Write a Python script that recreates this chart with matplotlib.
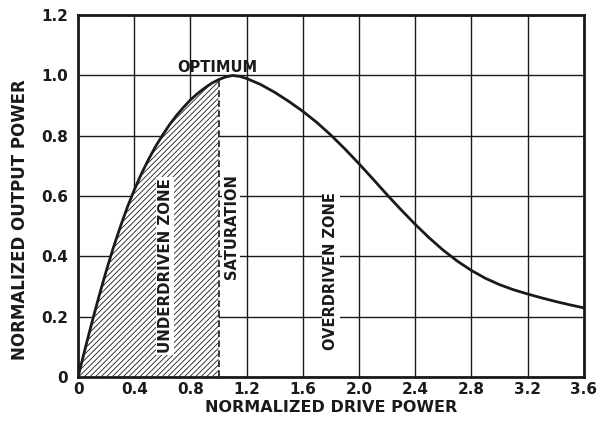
import numpy as np
import matplotlib
matplotlib.use('Agg')
import matplotlib.pyplot as plt

plt.rcParams['font.family'] = 'DejaVu Sans'
plt.rcParams['font.weight'] = 'bold'
plt.rcParams['axes.labelweight'] = 'bold'
plt.rcParams['hatch.linewidth'] = 0.6
plt.rcParams['hatch.color'] = '#333333'

# normalized drive power vs normalized output power
drive = [0.0, 0.05, 0.10, 0.15, 0.20, 0.25, 0.30, 0.35, 0.40, 0.45, 0.50,
         0.55, 0.60, 0.65, 0.70, 0.75, 0.80, 0.85, 0.90, 0.95, 1.00, 1.05,
         1.10, 1.15, 1.20, 1.30, 1.40, 1.50, 1.60, 1.70, 1.80, 1.90, 2.00,
         2.10, 2.20, 2.30, 2.40, 2.50, 2.60, 2.70, 2.80, 2.90, 3.00, 3.10,
         3.20, 3.30, 3.40, 3.50, 3.60]
output = [0.0, 0.093, 0.183, 0.269, 0.351, 0.427, 0.497, 0.562, 0.620, 0.673, 0.720,
          0.763, 0.801, 0.836, 0.867, 0.894, 0.919, 0.940, 0.958, 0.974, 0.986, 0.995,
          1.0, 0.997, 0.990, 0.970, 0.944, 0.914, 0.881, 0.844, 0.802, 0.756, 0.707,
          0.656, 0.604, 0.554, 0.506, 0.461, 0.420, 0.384, 0.353, 0.327, 0.306, 0.289,
          0.275, 0.262, 0.250, 0.239, 0.229]
saturation = 1.0

x_ticks = [0, 0.4, 0.8, 1.2, 1.6, 2.0, 2.4, 2.8, 3.2, 3.6]
x_labels = ['0', '0.4', '0.8', '1.2', '1.6', '2.0', '2.4', '2.8', '3.2', '3.6']
y_ticks = [0, 0.2, 0.4, 0.6, 0.8, 1.0, 1.2]
y_labels = ['0', '0.2', '0.4', '0.6', '0.8', '1.0', '1.2']

ink = '#1a1a1a'

fig = plt.figure(figsize=(6.10, 4.22), dpi=100)
ax = fig.add_axes([0.128, 0.107, 0.829, 0.857])

x = np.array(drive)
y = np.array(output)

# underdriven zone hatching
under = x <= saturation
ax.fill_between(x[under], 0, y[under], facecolor='white', edgecolor=ink,
                hatch='//////', linewidth=0, zorder=2)
y_sat = np.interp(saturation, x, y)
ax.plot([saturation, saturation], [0, y_sat], color=ink, lw=1.2,
        ls=(0, (4, 2)), zorder=3)

ax.plot(x, y, color=ink, lw=2.0, zorder=4)

ax.set_xlim(0, 3.6)
ax.set_ylim(0, 1.2)
ax.set_xticks(x_ticks)
ax.set_xticklabels(x_labels)
ax.set_yticks(y_ticks)
ax.set_yticklabels(y_labels)
ax.tick_params(length=0, labelsize=11, colors=ink)
ax.tick_params(axis='y', pad=7)
ax.tick_params(axis='x', pad=4)
ax.grid(True, color=ink, lw=1.0, zorder=1)
ax.set_axisbelow(True)
for s in ax.spines.values():
    s.set_linewidth(2.0)
    s.set_color(ink)

ax.set_xlabel('NORMALIZED DRIVE POWER', fontsize=11.5, color=ink, labelpad=2)
ax.set_ylabel('NORMALIZED OUTPUT POWER', fontsize=12, color=ink)
ax.yaxis.set_label_coords(-0.098, 0.434)

box = dict(facecolor='white', edgecolor='none', pad=1.0)
ax.text(0.99, 1.025, 'OPTIMUM', ha='center', va='center', fontsize=10.5,
        color=ink, zorder=5)
ax.text(0.62, 0.368, 'UNDERDRIVEN ZONE', rotation=90, ha='center',
        va='center', fontsize=10.8, color=ink, bbox=box, zorder=5)
ax.text(1.09, 0.50, 'SATURATION', rotation=90, ha='center', va='center',
        fontsize=10.5, color=ink, bbox=box, zorder=5)
ax.text(1.80, 0.35, 'OVERDRIVEN ZONE', rotation=90, ha='center',
        va='center', fontsize=10.5, color=ink, bbox=box, zorder=5)

fig.savefig('out.png', dpi=100)
